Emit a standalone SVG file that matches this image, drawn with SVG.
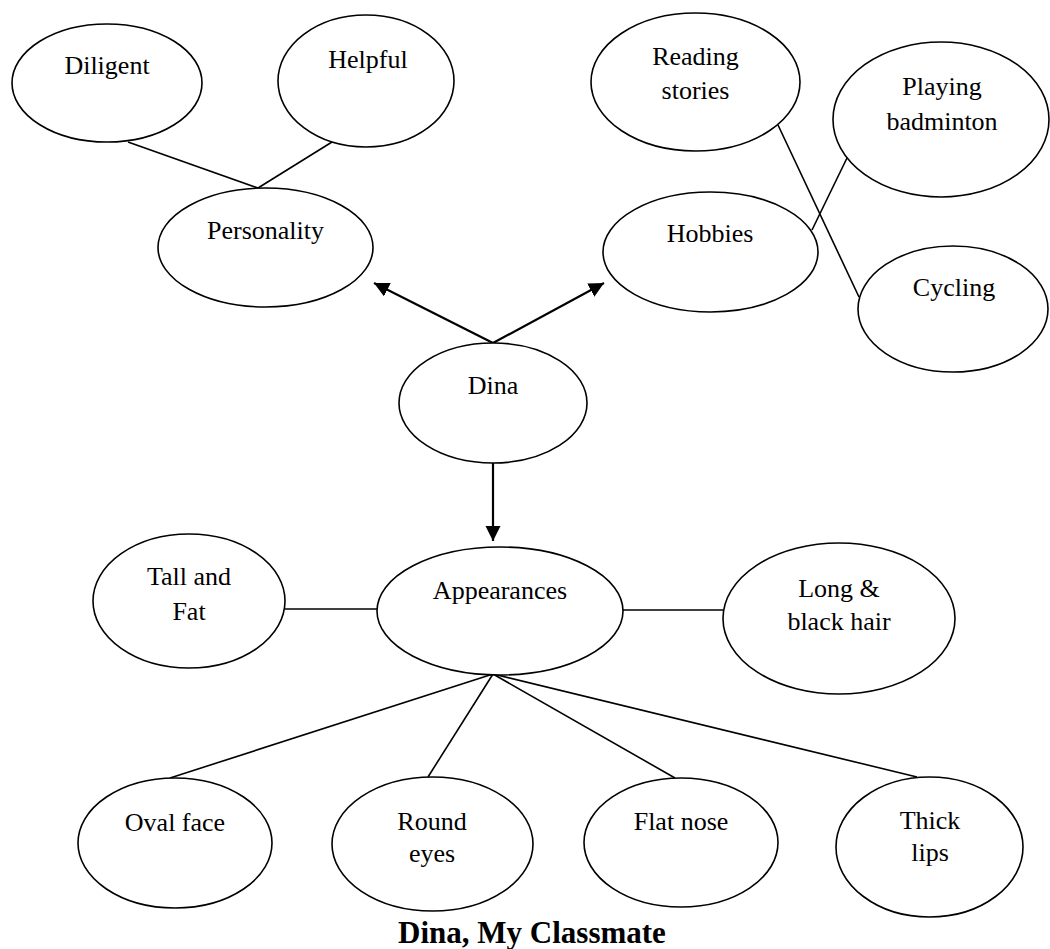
<svg xmlns="http://www.w3.org/2000/svg" width="1050" height="949" viewBox="0 0 1050 949">
<style>
.n{fill:#fff;stroke:#000;stroke-width:1.6}
.t{font-family:"Liberation Serif","Times New Roman",serif;font-size:26px;fill:#000;text-anchor:middle}
.l{stroke:#000;stroke-width:1.6;fill:none}
.a{stroke:#000;stroke-width:2.2;fill:none;marker-end:url(#ah)}
.title{font-family:"Liberation Serif","Times New Roman",serif;font-size:31px;font-weight:bold;fill:#000;text-anchor:middle}
</style>
<defs>
<marker id="ah" markerUnits="userSpaceOnUse" markerWidth="16" markerHeight="16" refX="15" refY="7.5" orient="auto">
<path d="M0,0 L15,7.5 L0,15 z" fill="#000"/>
</marker>
</defs>
<rect width="1050" height="949" fill="#fff"/>
<g id="connectors">
<line class="l" x1="128" y1="142" x2="258" y2="188"/>
<line class="l" x1="332" y1="142" x2="258" y2="188"/>
<line class="l" x1="778" y1="125" x2="859" y2="297"/>
<line class="l" x1="847" y1="158" x2="812" y2="230"/>
<line class="a" x1="493" y1="343" x2="374" y2="283"/>
<line class="a" x1="493" y1="343" x2="604" y2="283"/>
<line class="a" x1="493" y1="463" x2="493" y2="541"/>
<line class="l" x1="285" y1="609" x2="377" y2="609"/>
<line class="l" x1="623" y1="610" x2="723" y2="610"/>
<line class="l" x1="493" y1="674" x2="170" y2="778"/>
<line class="l" x1="493" y1="674" x2="428" y2="777"/>
<line class="l" x1="493" y1="674" x2="675" y2="778"/>
<line class="l" x1="493" y1="674" x2="917" y2="777"/>
</g>
<g id="diligent"><ellipse class="n" cx="107" cy="83" rx="95" ry="59"/><text class="t" x="107" y="74">Diligent</text></g>
<g id="helpful"><ellipse class="n" cx="366" cy="81" rx="88" ry="66"/><text class="t" x="368" y="68">Helpful</text></g>
<g id="personality"><ellipse class="n" cx="265.5" cy="247.5" rx="107.5" ry="59.5"/><text class="t" x="265.5" y="239">Personality</text></g>
<g id="reading"><ellipse class="n" cx="695.5" cy="82" rx="104.5" ry="69"/><text class="t" x="695.5" y="65">Reading</text><text class="t" x="695.5" y="99">stories</text></g>
<g id="badminton"><ellipse class="n" cx="941" cy="119.5" rx="108" ry="77.5"/><text class="t" x="942" y="95">Playing</text><text class="t" x="942" y="130">badminton</text></g>
<g id="hobbies"><ellipse class="n" cx="710.5" cy="252" rx="107.5" ry="60"/><text class="t" x="710" y="242">Hobbies</text></g>
<g id="cycling"><ellipse class="n" cx="953" cy="309" rx="95" ry="63"/><text class="t" x="954" y="296">Cycling</text></g>
<g id="dina"><ellipse class="n" cx="493" cy="403" rx="94" ry="60"/><text class="t" x="493" y="394">Dina</text></g>
<g id="appearances"><ellipse class="n" cx="500" cy="611" rx="123" ry="64"/><text class="t" x="500" y="599">Appearances</text></g>
<g id="tallfat"><ellipse class="n" cx="189" cy="601" rx="96" ry="67"/><text class="t" x="189" y="585">Tall and</text><text class="t" x="189" y="620">Fat</text></g>
<g id="hair"><ellipse class="n" cx="839" cy="618.5" rx="116" ry="75.5"/><text class="t" x="839" y="597">Long &amp;</text><text class="t" x="839" y="630">black hair</text></g>
<g id="oval"><ellipse class="n" cx="175" cy="843" rx="97" ry="65"/><text class="t" x="175" y="831">Oval face</text></g>
<g id="eyes"><ellipse class="n" cx="432.5" cy="844" rx="100.5" ry="67"/><text class="t" x="432" y="830">Round</text><text class="t" x="432" y="862">eyes</text></g>
<g id="nose"><ellipse class="n" cx="681" cy="842.5" rx="97" ry="64.5"/><text class="t" x="681" y="830">Flat nose</text></g>
<g id="lips"><ellipse class="n" cx="929.5" cy="847" rx="93.5" ry="70"/><text class="t" x="930" y="829">Thick</text><text class="t" x="930" y="861">lips</text></g>
<text class="title" x="532" y="943">Dina, My Classmate</text>
</svg>
